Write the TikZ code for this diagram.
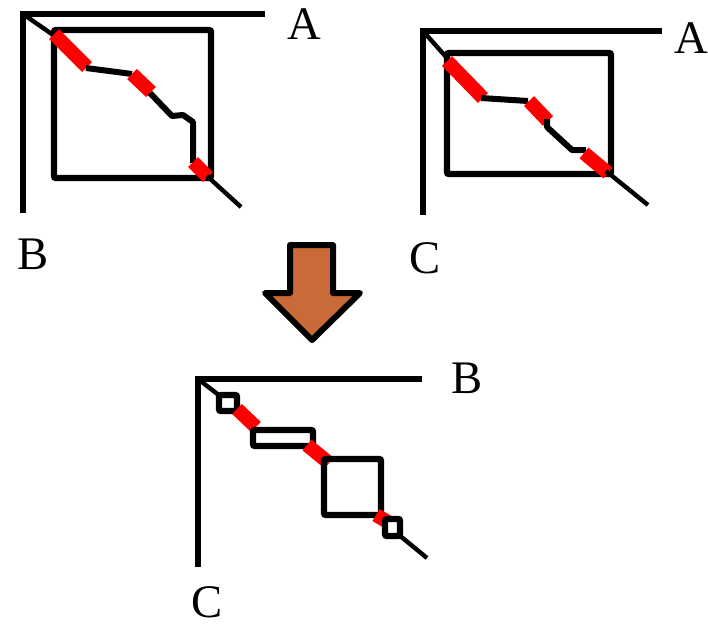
\documentclass[tikz,border=0pt]{standalone}
\usepackage{fontspec}
\setmainfont{Liberation Serif}
\usepackage{tikz}
\usetikzlibrary{calc}
\definecolor{arrowbrown}{RGB}{201,106,56}
\definecolor{segred}{RGB}{255,0,0}

\begin{document}
\begin{tikzpicture}[x=0.75pt, y=-0.75pt,
        axisline/.style={line width=4.8pt, line join=miter},
        diagline/.style={line width=3.3pt},
        linkline/.style={line width=4.5pt, line join=round},
        redpart/.style={draw=segred, line width=10.5pt},
        blockbox/.style={line width=4.8pt, rounded corners=1.5pt},
        bigarrow/.style={fill=arrowbrown, draw=black, line width=4.5pt, line join=round},
        lbl/.style={inner sep=0pt, font=\fontsize{35}{40}\selectfont}]
      \useasboundingbox (0,0) rectangle (708,626);
      % Matriz A x B
      \coordinate (P1) at (23,14);
      \draw[axisline] (265,14) -- (P1) -- (23,213);
      \draw[blockbox] (54,30) rectangle (211,178);
      \draw[diagline] (P1) -- (56,37);
      \draw[redpart] (54,34) -- (87,67);
      \draw[linkline] (86,68) -- (132,74);
      \draw[redpart] (132,74) -- (151,92);
      \draw[linkline] (150,93) -- (172,116) -- (183,115) -- (193,122) -- (193,163);
      \draw[redpart] (193,162) -- (208,177);
      \draw[diagline] (207,176) -- (241,207);
      \node[lbl] (A1) at (304,24) {A};
      \node[lbl] (B1) at (33,254) {B};
      % Matriz A x C
      \coordinate (P2) at (423,31);
      \draw[axisline] (662,31) -- (P2) -- (423,215);
      \draw[blockbox] (447,53) rectangle (611,174);
      \draw[diagline] (P2) -- (447,58);
      \draw[redpart] (447,61) -- (483,98);
      \draw[linkline] (481,98) -- (528,101);
      \draw[redpart] (529,101) -- (548,121);
      \draw[linkline] (547,119) -- (547,127) -- (572,150) -- (586,150);
      \draw[redpart] (584,153) -- (608,173);
      \draw[diagline] (606,171) -- (648,205);
      \node[lbl] (A2) at (691,38) {A};
      \node[lbl] (C2) at (425,258) {C};
      % Flecha
      \draw[bigarrow] (290,245) -- (333,245) -- (333,293) -- (360,293)
            -- (312,340) -- (265,293) -- (290,293) -- cycle;
      % Matriz B x C
      \coordinate (P3) at (198,379);
      \draw[axisline] (422,379) -- (P3) -- (198,567);
      \draw[diagline] (P3) -- (220,396);
      \draw[blockbox] (219,395) rectangle (237,411);
      \draw[redpart] (237,409) -- (256,427);
      \draw[blockbox] (253,430) rectangle (313,446);
      \draw[redpart] (307,445) -- (329,463);
      \draw[blockbox] (324,459) rectangle (381,515);
      \draw[redpart] (376,515) -- (388,522);
      \draw[blockbox] (385,519) rectangle (400,536);
      \draw[diagline] (399,535) -- (427,558);
      \node[lbl] (B3) at (467,378) {B};
      \node[lbl] (C3) at (207,602) {C};
    \end{tikzpicture}
\end{document}
